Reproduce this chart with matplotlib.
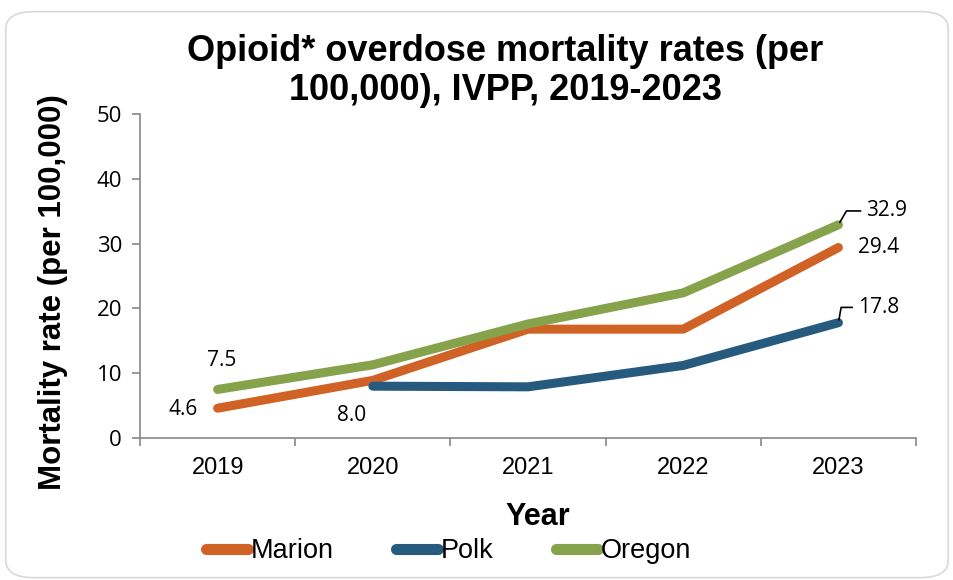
import numpy as np
import matplotlib
matplotlib.use("Agg")
from matplotlib import pyplot as plt
from matplotlib.patches import FancyBboxPatch

years = ["2019", "2020", "2021", "2022", "2023"]
marion = [4.6, 8.9, 16.8, 16.8, 29.4]
polk = [np.nan, 8.0, 7.9, 11.2, 17.8]
oregon = [7.5, 11.3, 17.6, 22.4, 32.9]

series_names = ["Marion", "Polk", "Oregon"]
series_colors = ["#d06225", "#265a7e", "#86a24b"]

plt.rcParams["font.family"] = ["Liberation Sans", "DejaVu Sans"]

fig = plt.figure(figsize=(9.54, 5.8), dpi=100, facecolor="white")
border = FancyBboxPatch((0.006, 0.004), 0.988, 0.976, boxstyle="round,pad=0,rounding_size=0.03",
                        transform=fig.transFigure, facecolor="none", edgecolor="#d9d9d9", lw=1.2)
fig.patches.append(border)

ax = fig.add_axes([0.1468, 0.2448, 0.8134, 0.5586])
xs = np.arange(len(years))
for vals, name, col in zip([marion, polk, oregon], series_names, series_colors):
    ax.plot(xs, vals, color=col, lw=6.5, solid_capstyle="round", solid_joinstyle="round", label=name)

ax.set_xlim(-0.5, len(years) - 0.5)
ax.set_ylim(0, 50)
ax.set_yticks(np.arange(0, 51, 10))
ax.set_xticks(xs)
ax.set_xticklabels(years)
ax.set_xticks(np.arange(-0.5, len(years), 1), minor=True)
ax.tick_params(axis="x", which="major", length=0, pad=14, labelsize=17)
ax.tick_params(axis="x", which="minor", length=6, color="#888888", width=1.2, direction="out")
ax.tick_params(axis="y", length=6, color="#888888", width=1.2, pad=7)
for lab in ax.get_yticklabels():
    lab.set_family(["Open Sans", "DejaVu Sans"])
    lab.set_fontsize(16)
for side in ["top", "right"]:
    ax.spines[side].set_visible(False)
for side in ["left", "bottom"]:
    ax.spines[side].set_color("#888888")
    ax.spines[side].set_linewidth(1.2)

lab_font = dict(fontsize=15, family=["Open Sans", "DejaVu Sans"], color="black")
ax.annotate(f"{marion[0]:.1f}", (xs[0], marion[0]), xytext=(-14, -1), textcoords="offset points",
            ha="right", va="center", **lab_font)
ax.annotate(f"{oregon[0]:.1f}", (xs[0], oregon[0]), xytext=(3, 21), textcoords="offset points",
            ha="center", va="center", **lab_font)
ax.annotate(f"{polk[1]:.1f}", (xs[1], polk[1]), xytext=(-15, -21), textcoords="offset points",
            ha="center", va="center", **lab_font)
ax.annotate(f"{marion[4]:.1f}", (xs[4], marion[4]), xytext=(14, 0), textcoords="offset points",
            ha="left", va="center", **lab_font)
ax.annotate(f"{oregon[4]:.1f}", (xs[4], oregon[4]), xytext=(20, 10), textcoords="offset points",
            ha="left", va="center", **lab_font)
ax.annotate(f"{polk[4]:.1f}", (xs[4], polk[4]), xytext=(14, 11), textcoords="offset points",
            ha="left", va="center", **lab_font)
# leader lines
ax.annotate("", (xs[4], oregon[4]), xytext=(18, 10), textcoords="offset points",
            arrowprops=dict(arrowstyle="-", color="black", lw=1.2,
                            connectionstyle="angle,angleA=180,angleB=60,rad=0"))
ax.annotate("", (xs[4], polk[4]), xytext=(12, 11), textcoords="offset points",
            arrowprops=dict(arrowstyle="-", color="black", lw=1.2,
                            connectionstyle="angle,angleA=180,angleB=80,rad=0"))

ax.set_xlabel("Year", fontsize=22, fontweight="bold")
ax.xaxis.set_label_coords(0.512, -0.196)
ax.set_ylabel("Mortality rate (per 100,000)", fontsize=22.5, fontweight="bold")
ax.yaxis.set_label_coords(-0.093, 0.45)
fig.text(0.53, 0.878, "Opioid* overdose mortality rates (per\n100,000), IVPP, 2019-2023",
         ha="center", va="center", fontsize=26, fontweight="bold", linespacing=1.15)

leg = fig.legend(loc="center", bbox_to_anchor=(0.47, 0.05), ncol=3, frameon=False, fontsize=19.5,
                 handlelength=1.55, handletextpad=0.1, columnspacing=2.3)
for h in leg.get_lines():
    h.set_linewidth(8)
    h.set_solid_capstyle("round")

plt.savefig("out.png", dpi=100, facecolor="white")
